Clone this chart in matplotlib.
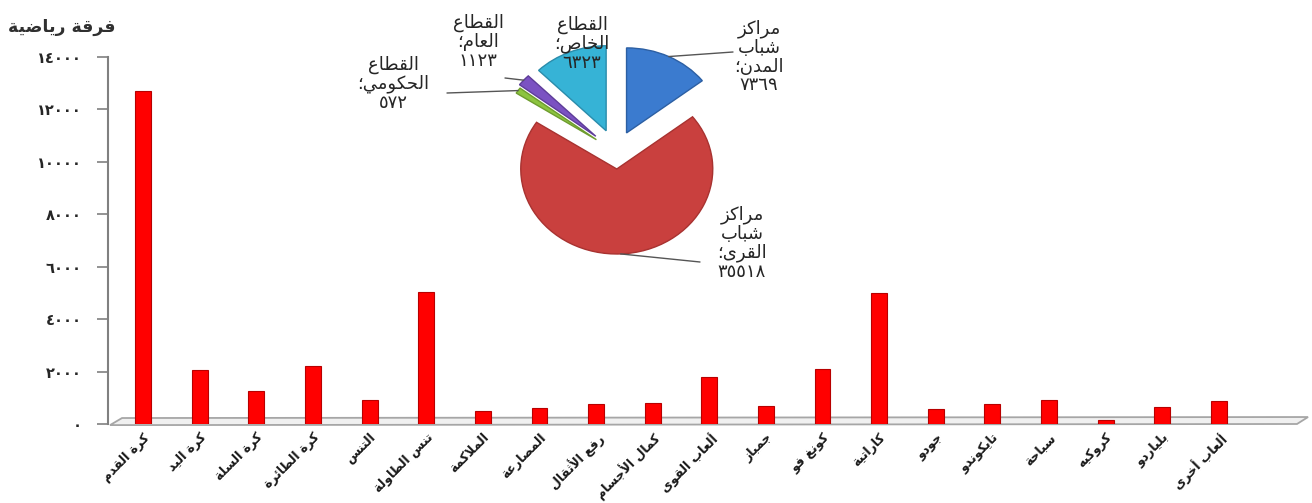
import matplotlib
matplotlib.use("Agg")
import matplotlib.pyplot as plt
from matplotlib.patches import Polygon
from matplotlib.ticker import FuncFormatter
import numpy as np

# ---------------- data ----------------
categories = ["كرة القدم", "كرة اليد", "كرة السلة", "كرة الطائرة", "التنس",
              "تنس الطاولة", "الملاكمة", "المصارعة", "رفع الأثقال", "كمال الأجسام",
              "ألعاب القوى", "جمباز", "كونغ فو", "كاراتية", "جودو",
              "تايكوندو", "سباحة", "كروكيه", "بلياردو", "ألعاب أخرى"]
teams = [12700, 2060, 1260, 2210, 915,
         5030, 510, 610, 760, 815,
         1780, 690, 2100, 5010, 570,
         760, 915, 150, 660, 890]
y_ticks = [0, 2000, 4000, 6000, 8000, 10000, 12000, 14000]
y_title = "فرقة رياضية"

pie_labels = ["مراكز شباب المدن", "مراكز شباب القرى", "القطاع الحكومي",
              "القطاع العام", "القطاع الخاص"]
pie_values = [7369, 35518, 572, 1123, 6323]
pie_colors = ["#3b7bcf", "#c9403e", "#8cc43f", "#7b52c2", "#36b3d6"]
pie_edges = ["#2c5fa3", "#a83230", "#6e9c2e", "#5e3d99", "#2a8cab"]

# ---------------- minimal Arabic shaping (presentation forms) ----------------
_LETTERS = "ءآأؤإئابةتثجحخدذرزسشصضطظعغفقكلمنهوىي"
_NFORMS = [1, 2, 2, 2, 2, 4, 2, 4, 2, 4, 4, 4, 4, 4, 2, 2, 2, 2, 4, 4, 4, 4,
           4, 4, 4, 4, 4, 4, 4, 4, 4, 4, 4, 2, 2, 4]
_FORMS = {}
_start = 0xFE80
for _ch, _n in zip(_LETTERS, _NFORMS):
    _FORMS[_ch] = [_start + k for k in range(_n)]
    _start += _n
_LAM_ALEF = {"آ": 0xFEF5, "أ": 0xFEF7, "إ": 0xFEF9, "ا": 0xFEFB}


def _joins_next(c):
    return c in _FORMS and len(_FORMS[c]) == 4


def _is_joiner(c):
    return c in _FORMS and len(_FORMS[c]) > 1


def _shape(text):
    out, i, n = [], 0, len(text)
    while i < n:
        c = text[i]
        if c not in _FORMS:
            out.append(c)
            i += 1
            continue
        prev = text[i - 1] if i > 0 else ""
        pj = _joins_next(prev)
        if c == "ل" and i + 1 < n and text[i + 1] in _LAM_ALEF:
            out.append(chr(_LAM_ALEF[text[i + 1]] + (1 if pj else 0)))
            i += 2
            continue
        nxt = text[i + 1] if i + 1 < n else ""
        nj = _joins_next(c) and _is_joiner(nxt)
        f = _FORMS[c]
        if len(f) == 1:
            idx = 0
        elif pj and nj:
            idx = 3
        elif pj:
            idx = 1
        elif nj:
            idx = 2
        else:
            idx = 0
        out.append(chr(f[idx]))
        i += 1
    return "".join(out)


def ar(text):
    return "\n".join(_shape(line)[::-1] for line in text.split("\n"))


_DIG = "٠١٢٣٤٥٦٧٨٩"


def ar_num(v):
    return "".join(_DIG[int(d)] for d in str(int(v)))


# ---------------- figure ----------------
W, H = 1312, 503
fig = plt.figure(figsize=(W / 100, H / 100), dpi=100)
plt.rcParams["font.family"] = ["DejaVu Sans"]


def px(x0, y_top, x1, y_bot):
    return [x0 / W, 1 - y_bot / H, (x1 - x0) / W, (y_bot - y_top) / H]


ax = fig.add_axes(px(108, 57, 1297, 424))
x = np.arange(len(categories))
ax.bar(x, teams, width=0.28, color="#ff0000", edgecolor="#b80000",
       linewidth=0.8, zorder=3)
ax.set_xlim(-0.62, 20.38)
ax.set_ylim(0, 14000)
ax.set_yticks(y_ticks)
ax.yaxis.set_major_formatter(FuncFormatter(lambda v, p: ar_num(v)))
ax.tick_params(axis="y", length=8, width=1.2, color="#808080", pad=11,
               labelsize=10.5, labelcolor="#262626")
for t in ax.get_yticklabels():
    t.set_fontweight("bold")
ax.set_xticks(x)
ax.set_xticklabels([ar(c) for c in categories], rotation=45, ha="right",
                   va="top", rotation_mode="anchor", fontsize=9,
                   fontweight="bold", color="#1a1a1a")
ax.tick_params(axis="x", length=0, pad=5)
for s in ["top", "right", "bottom"]:
    ax.spines[s].set_visible(False)
ax.spines["left"].set_color("#808080")
ax.spines["left"].set_linewidth(1.5)

# 3D-like floor
floor = Polygon([(0.0017, -0.003), (1.0, 0.0), (1.0093, 0.019), (0.0118, 0.0163)],
                closed=True, transform=ax.transAxes, facecolor="#f0f0f0",
                edgecolor="#a6a6a6", linewidth=1.3, clip_on=False, zorder=1)
ax.add_patch(floor)

fig.text(62 / W, 1 - 27 / H, ar(y_title), ha="center", va="center",
         fontsize=12.5, fontweight="bold", color="#303030")

# ---------------- pie ----------------
pcx, pcy, rx, ry = 616, 152, 96, 85
pax = fig.add_axes(px(pcx - 150, pcy - 130, pcx + 150, pcy + 130))
wedges, _ = pax.pie(pie_values, colors=pie_colors, startangle=90,
                    counterclock=False, explode=[0.25, 0.2, 0.25, 0.28, 0.27],
                    radius=1, wedgeprops=dict(linewidth=1.0))
for w, ec in zip(wedges, pie_edges):
    w.set_edgecolor(ec)
pax.set_aspect("auto")
pax.set_xlim(-150 / rx, 150 / rx)
pax.set_ylim(-130 / ry, 130 / ry)
pax.axis("off")

label_pos = [(759, 57), (742, 243), (393, 84), (478, 42), (582, 44)]
leader_end = [(733, 52), (700, 262), (447, 93), (505, 78), None]
for w, name, val, lp, le in zip(wedges, pie_labels, pie_values, label_pos, leader_end):
    txt = ar(name.replace(" ", "\n") + "؛") + "\n" + ar_num(val)
    fig.text(lp[0] / W, 1 - lp[1] / H, txt, ha="center", va="center",
             fontsize=13, linespacing=1.05, color="#262626", zorder=10)
    if le is not None:
        th = np.deg2rad((w.theta1 + w.theta2) / 2)
        cx, cy = w.center
        anchor = (cx + w.r * np.cos(th), cy + w.r * np.sin(th))
        pax.annotate("", xy=anchor, xycoords="data",
                     xytext=(le[0], H - le[1]), textcoords="figure pixels",
                     arrowprops=dict(arrowstyle="-", color="#555555", lw=1,
                                     shrinkA=0, shrinkB=0))

fig.savefig("out.png", dpi=100)
